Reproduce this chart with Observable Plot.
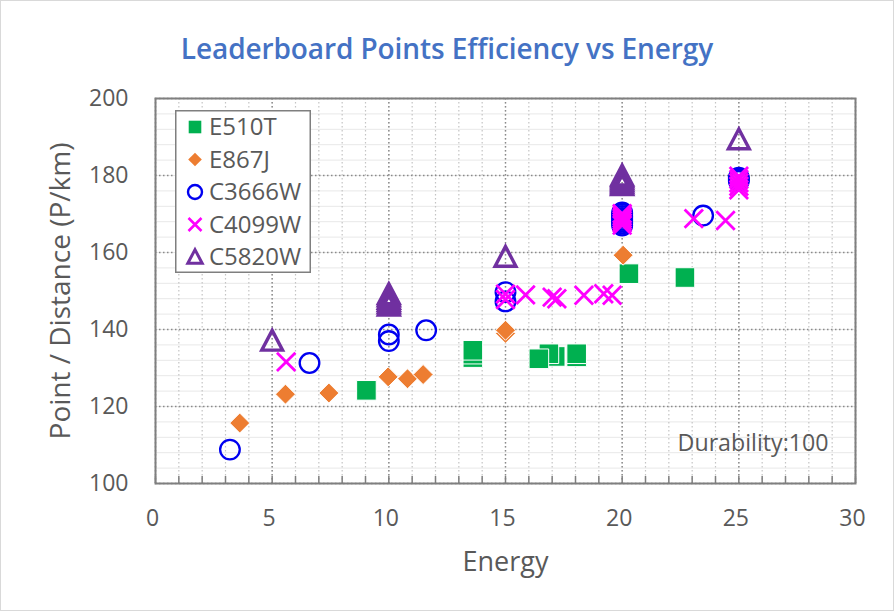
<!DOCTYPE html>
<html>
<head>
<meta charset="utf-8">
<script src="https://cdn.jsdelivr.net/npm/d3@7"></script>
<script src="https://cdn.jsdelivr.net/npm/@observablehq/plot@0.6"></script>
<style>
  html, body { margin: 0; padding: 0; background: #fff; }
  #wrap { position: relative; width: 894px; height: 611px; overflow: hidden; font-family: "Segoe UI", "Open Sans", sans-serif; background: #fff; }
  #border { position: absolute; left: 0; top: 0; width: 892px; height: 609px; border: 1px solid #d9d9d9; pointer-events: none; }
  #title { position: absolute; left: 0; top: 0; width: 894px; height: 70px; line-height: 96px; text-align: center; color: #4472C4; font-size: 28px; font-weight: 600; letter-spacing: -0.1px; }
  #chart { position: absolute; left: 0; top: 70px; }
  #legend { position: absolute; left: 175px; top: 110px; }
</style>
</head>
<body>
<div id="wrap">
  <div id="title">Leaderboard Points Efficiency vs Energy</div>
  <div id="chart"></div>
  <div id="legend"></div>
  <div id="border"></div>
</div>
<script>
// ---- data ----
const seriesNames = ["E510T", "E867J", "C3666W", "C4099W", "C5820W"];
const seriesColors = ["#00B050", "#ED7D31", "#0000F0", "#FF00FF", "#7030A0"];

const e510tX = [9.04, 13.6, 13.6, 13.6, 17.13, 16.86, 16.43, 18.05, 18.05, 20.29, 22.69];
const e510tY = [124.2, 132.7, 133.6, 134.6, 133.0, 133.7, 132.4, 132.9, 133.7, 154.5, 153.5];

const e867jX = [3.61, 5.57, 7.43, 9.97, 10.8, 11.47, 15.0, 15.0, 20.04];
const e867jY = [115.7, 123.2, 123.5, 127.7, 127.2, 128.3, 139.0, 139.8, 159.3];

const c3666wX = [3.19, 6.6, 10.0, 10.0, 11.6, 15.0, 15.0, 20.0, 20.0, 20.0, 20.0, 20.0, 20.0, 20.0, 20.0, 23.47, 25.0, 25.0, 25.0];
const c3666wY = [108.8, 131.3, 137.0, 138.7, 139.8, 147.3, 149.7, 167.0, 167.5, 168.0, 168.5, 169.0, 169.5, 170.0, 170.4, 169.6, 178.6, 179.0, 179.4];

const c4099wX = [5.6, 15.0, 15.0, 15.86, 17.0, 17.2, 18.36, 19.21, 19.57, 20.0, 20.0, 20.0, 20.0, 20.0, 20.0, 23.07, 24.43, 25.0, 25.0, 25.0, 25.0, 25.0];
const c4099wY = [131.6, 147.8, 149.2, 149.0, 148.4, 148.0, 148.9, 149.3, 148.9, 167.1, 167.7, 168.3, 168.9, 169.5, 170.1, 168.8, 168.3, 176.3, 177.2, 178.1, 179.0, 179.8];

const c5820wX = [5.0, 10.0, 10.0, 10.0, 10.0, 10.0, 10.0, 15.0, 20.0, 20.0, 20.0, 20.0, 20.0, 20.0, 25.0];
const c5820wY = [137.2, 146.3, 146.9, 147.5, 148.1, 148.7, 149.3, 159.0, 177.6, 178.1, 178.6, 179.1, 179.6, 180.1, 189.5];

const xTicks = [0, 5, 10, 15, 20, 25, 30];
const xMinor = d3.range(0, 31, 1);
const yTicks = [100, 120, 140, 160, 180, 200];
const yMinor = d3.range(100, 201, 4);
const xLabel = "Energy";
const yLabel = "Point / Distance (P/km)";
const noteLabel = "Durability:100";

// ---- helpers ----
const zip = (xs, ys) => xs.map((x, i) => ({x, y: ys[i]}));
const rOf = size => Math.sqrt(size / Math.PI);
const symSquare = {draw(c, s) { const r = rOf(s); c.rect(-r, -r, 2 * r, 2 * r); }};
const symDiamond = {draw(c, s) { const r = rOf(s); c.moveTo(0, -r); c.lineTo(r, 0); c.lineTo(0, r); c.lineTo(-r, 0); c.closePath(); }};
const symTimes = {draw(c, s) { const r = rOf(s); c.moveTo(-r, -r); c.lineTo(r, r); c.moveTo(-r, r); c.lineTo(r, -r); }};
const symTriangle = {draw(c, s) { const r = rOf(s); const h = r * 0.95; c.moveTo(0, -h); c.lineTo(r, h); c.lineTo(-r, h); c.closePath(); }};

const font = "'Segoe UI', 'Open Sans', sans-serif";
const textColor = "#595959";

const chart = Plot.plot({
  width: 894,
  height: 541,
  marginTop: 28,
  marginBottom: 128,
  marginLeft: 155,
  marginRight: 39,
  style: {fontFamily: font, color: textColor, background: "transparent", overflow: "visible"},
  x: {domain: [0, 30]},
  y: {domain: [100, 200]},
  marks: [
    Plot.ruleY(yMinor, {stroke: "#e8e8e8", strokeWidth: 1}),
    Plot.ruleX(xMinor, {stroke: "#c4c4c4", strokeWidth: 1.2, strokeDasharray: "1.5,2.5"}),
    Plot.ruleX(xTicks, {stroke: "#8a8a8a", strokeWidth: 1.4, strokeDasharray: "1.5,2.5"}),
    Plot.ruleY(yTicks, {stroke: "#8a8a8a", strokeWidth: 1.4, strokeDasharray: "1.5,2.5"}),
    Plot.axisX({ticks: xMinor, tickSize: -7, text: null, label: null, stroke: "#7f7f7f", strokeWidth: 1.5}),
    Plot.axisX({ticks: xTicks, tickSize: 0, tickPadding: 26, dx: -3, fontSize: 23, label: null, fill: textColor}),
    Plot.axisY({ticks: yTicks, tickSize: 0, tickPadding: 27, fontSize: 23, label: null, fill: textColor}),
    Plot.frame({stroke: "#7f7f7f", strokeWidth: 2}),
    Plot.text([xLabel], {frameAnchor: "bottom", dy: 87, fontSize: 27, fill: textColor}),
    Plot.text([yLabel], {frameAnchor: "left", dx: -94, rotate: -90, textAnchor: "middle", fontSize: 28, fill: textColor}),
    Plot.text([noteLabel], {frameAnchor: "bottom-right", dx: -27, dy: -33, textAnchor: "end", fontSize: 23.2, fill: textColor}),
    Plot.dot(zip(e510tX, e510tY), {x: "x", y: "y", symbol: symSquare, r: 9.8, fill: seriesColors[0], stroke: "#fff", strokeWidth: 1}),
    Plot.dot(zip(e867jX, e867jY), {x: "x", y: "y", symbol: symDiamond, r: 10, fill: seriesColors[1], stroke: "#fff", strokeWidth: 1}),
    Plot.dot(zip(c3666wX, c3666wY), {x: "x", y: "y", r: 9.8, fill: "none", stroke: seriesColors[2], strokeWidth: 2.3}),
    Plot.dot(zip(c4099wX, c4099wY), {x: "x", y: "y", symbol: symTimes, r: 9.2, fill: "none", stroke: seriesColors[3], strokeWidth: 2.8}),
    Plot.dot(zip(c5820wX, c5820wY), {x: "x", y: "y", symbol: symTriangle, r: 10.4, fill: "none", stroke: seriesColors[4], strokeWidth: 3.4, strokeLinejoin: "miter"})
  ]
});
document.getElementById("chart").appendChild(chart);

// ---- legend ----
const lw = 136, lh = 163;
const leg = d3.select("#legend").append("svg").attr("width", lw).attr("height", lh)
  .style("font-family", font).style("overflow", "visible");
leg.append("rect").attr("x", 0.75).attr("y", 0.75).attr("width", lw - 1.5).attr("height", lh - 1.5)
  .attr("fill", "#fff").attr("stroke", "#7f7f7f").attr("stroke-width", 1.5);
const rowY = [17, 49.5, 82, 114.5, 146.5];
const legSyms = [
  {sym: symSquare, r: 6.3, fill: seriesColors[0], stroke: "none", sw: 0},
  {sym: symDiamond, r: 6.8, fill: seriesColors[1], stroke: "none", sw: 0},
  {sym: d3.symbolCircle, r: 7, fill: "none", stroke: seriesColors[2], sw: 2.4},
  {sym: symTimes, r: 6.5, fill: "none", stroke: seriesColors[3], sw: 2.6},
  {sym: symTriangle, r: 7.2, fill: "none", stroke: seriesColors[4], sw: 3}
];
seriesNames.forEach((name, i) => {
  const s = legSyms[i];
  leg.append("path")
    .attr("transform", `translate(20,${rowY[i]})`)
    .attr("d", d3.symbol(s.sym, Math.PI * s.r * s.r)())
    .attr("fill", s.fill).attr("stroke", s.stroke).attr("stroke-width", s.sw);
  leg.append("text").attr("x", 34).attr("y", rowY[i]).attr("dy", "0.35em")
    .attr("font-size", 24).attr("fill", textColor).text(name);
});
</script>
</body>
</html>
